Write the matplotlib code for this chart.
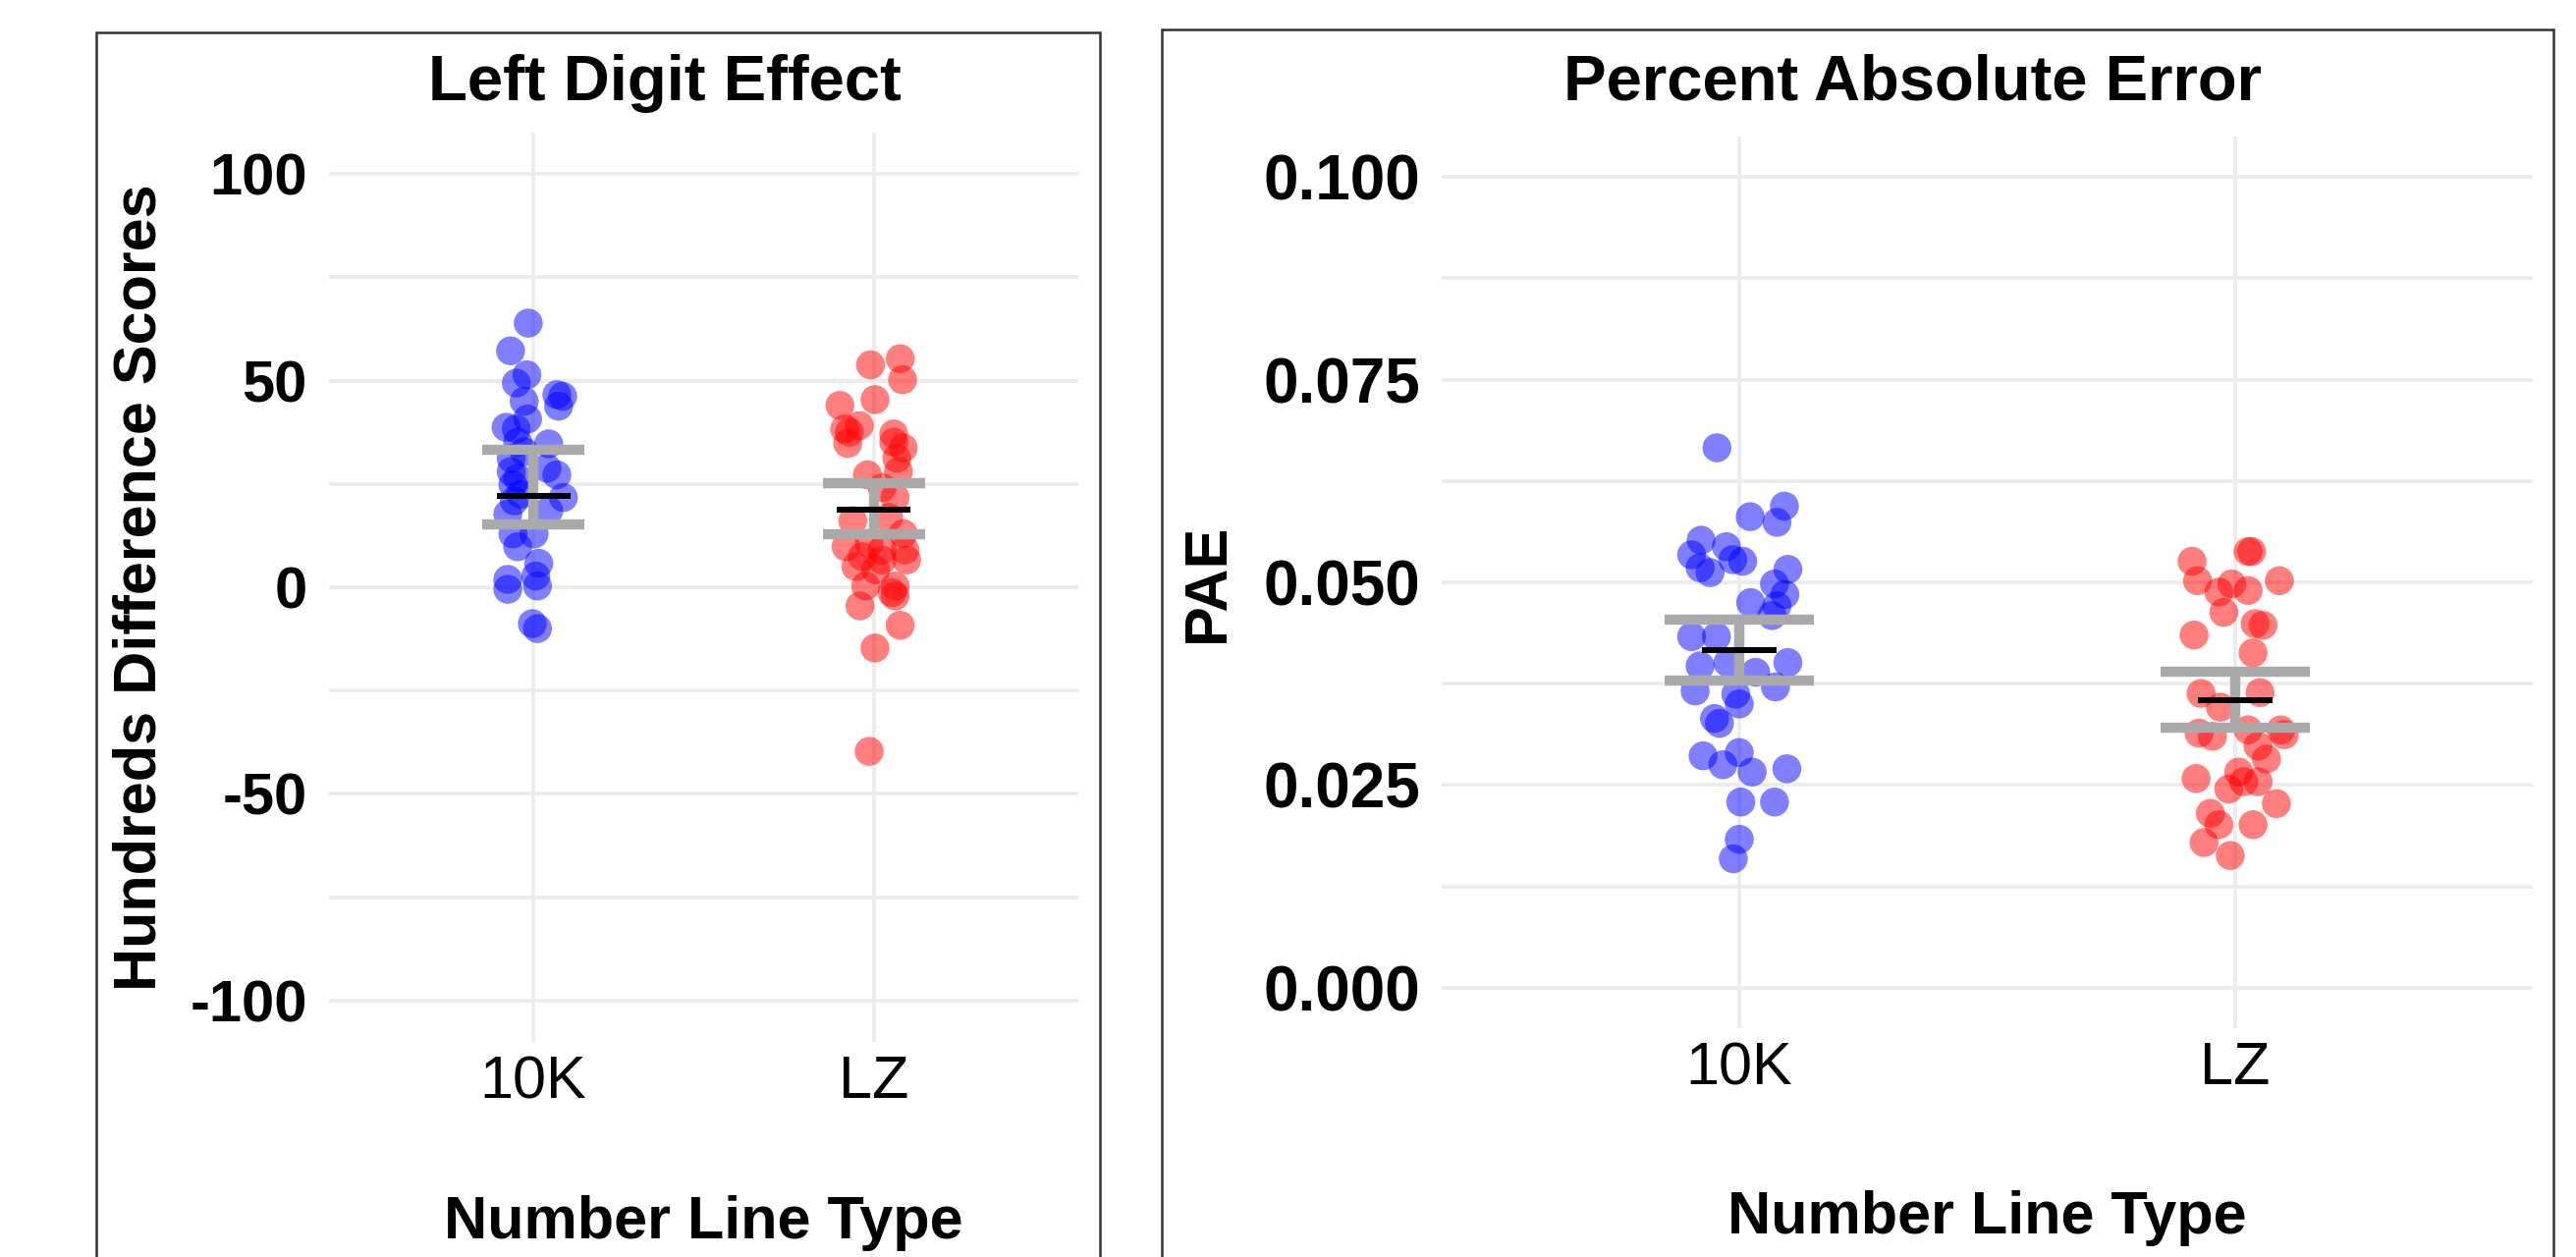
import matplotlib
matplotlib.use("Agg")
import matplotlib.pyplot as plt
import numpy as np
from matplotlib.patches import Rectangle

plt.rcParams['font.family'] = ['Liberation Sans', 'DejaVu Sans']
plt.rcParams['axes.unicode_minus'] = False

# DATA
groups = ["10K", "LZ"]

# Left Digit Effect: hundreds difference scores, with horizontal jitter
lde_10k = [63.9, 57.2, 51.4, 49.4, 46.6, 46.2, 43.8, 45.0, 38.7, 38.3,
           35.1, 34.7, 31.2, 28.0, 27.2, 24.8, 21.7, 20.9, 18.5, 17.7,
           12.9, 12.9, 9.8, 5.8, 1.9, -0.5, 2.7, 0.3, -8.8, -10.0,
           26.4, 22.5, 32.8, 40.7, 28.8]
lde_10k_jit = [-0.015, -0.067, -0.019, -0.05, 0.069, 0.086, 0.074, -0.027, -0.08, -0.05,
               -0.046, 0.045, -0.065, -0.065, 0.069, -0.06, 0.088, -0.056, 0.045, -0.075,
               -0.06, 0.002, -0.046, 0.016, -0.075, -0.075, 0.007, 0.012, -0.003, 0.012,
               -0.046, -0.037, -0.027, -0.017, 0.04]
lde_lz = [53.8, 55.3, 50.2, 45.4, 44.0, 39.1, 38.3, 34.8, 37.1, 35.1,
          33.7, 31.2, 27.2, 28.0, 21.7, 24.1, 16.1, 16.9, 13.0, 9.8,
          7.4, 9.0, 9.0, 6.6, 5.0, 4.2, 0.3, 0.3, -2.1, -4.5,
          -9.2, -14.7, -39.7, -1.3, 6.6, 10.6, 37.5]
lde_lz_jit = [-0.01, 0.077, 0.084, 0.003, -0.10, -0.043, -0.086, -0.077, 0.058, 0.058,
              0.086, 0.067, -0.019, 0.072, 0.062, 0.024, -0.062, 0.043, 0.086, -0.082,
              -0.034, 0.024, 0.091, 0.096, -0.053, 0.005, -0.024, 0.062, 0.062, -0.041,
              0.077, 0.003, -0.014, 0.053, 0.024, -0.014, -0.072]
lde_mean = [22.2, 18.8]
lde_lo = [15.3, 12.8]
lde_hi = [33.3, 25.1]

# Percent Absolute Error
pae_10k = [0.0666, 0.0581, 0.0594, 0.0574, 0.0552, 0.0534, 0.0544, 0.0526, 0.0518, 0.0512,
           0.0528, 0.0516, 0.0498, 0.0485, 0.0475, 0.0471, 0.0459, 0.0433, 0.0433, 0.0397,
           0.0401, 0.0401, 0.0389, 0.0366, 0.0371, 0.0350, 0.0332, 0.0326, 0.0286, 0.0290,
           0.0275, 0.0266, 0.0270, 0.0229, 0.0229, 0.0183, 0.0159, 0.0362]
pae_10k_jit = [-0.045, 0.022, 0.091, 0.076, -0.077, -0.096, -0.026, 0.007, -0.079, -0.059,
               -0.013, 0.098, 0.071, 0.092, 0.023, 0.076, 0.066, -0.096, -0.046, -0.079,
               -0.023, 0.098, 0.033, -0.089, 0.073, 0.0, -0.05, -0.04, -0.073, 0.0,
               -0.033, 0.026, 0.096, 0.003, 0.071, 0.0, -0.012, -0.007]
pae_lz = [0.0526, 0.0538, 0.0538, 0.0502, 0.0502, 0.0498, 0.0490, 0.0488, 0.0463, 0.0435,
          0.0449, 0.0447, 0.0413, 0.0363, 0.0364, 0.0346, 0.0314, 0.0310, 0.0318, 0.0318,
          0.0298, 0.0282, 0.0258, 0.0245, 0.0254, 0.0254, 0.0227, 0.0215, 0.0201, 0.0201,
          0.0179, 0.0163, 0.0266, 0.0312]
pae_lz_jit = [-0.087, 0.026, 0.033, 0.089, -0.076, -0.007, 0.026, -0.033, -0.023, -0.083,
              0.040, 0.056, 0.036, -0.069, 0.050, -0.030, -0.073, -0.046, 0.026, 0.092,
              0.046, 0.063, -0.079, -0.013, 0.017, 0.046, 0.083, -0.050, -0.033, 0.036,
              -0.063, -0.010, 0.007, 0.099]
pae_mean = [0.0416, 0.0355]
pae_lo = [0.0379, 0.0321]
pae_hi = [0.0454, 0.0390]

W, H = 2623, 1280
fig = plt.figure(figsize=(W / 100, H / 100), dpi=100)


def px_axes(x0, y0, x1, y1):
    return fig.add_axes([x0 / W, 1 - y1 / H, (x1 - x0) / W, (y1 - y0) / H])


def frame(x0, y0, x1):
    fig.add_artist(Rectangle((x0 / W, -0.1), (x1 - x0) / W, 1 - y0 / H + 0.1,
                             transform=fig.transFigure, fill=False,
                             edgecolor="#333333", lw=1.8, clip_on=False))


def panel(ax, values, jitters, means, lows, highs, mean_half, ysize):
    colors = ["#0000FF", "#FF0000"]
    for i, (vals, jit) in enumerate(zip(values, jitters)):
        ax.scatter(np.array(jit) + i, vals, s=450, color=colors[i], alpha=0.5,
                   edgecolors="none", zorder=2)
    xs = np.arange(len(groups))
    ax.vlines(xs, lows, highs, color="#A9A9A9", lw=7.5, zorder=3)
    ax.hlines(lows, xs - 0.15, xs + 0.15, color="#A9A9A9", lw=7.5, zorder=3)
    ax.hlines(highs, xs - 0.15, xs + 0.15, color="#A9A9A9", lw=7.5, zorder=3)
    ax.hlines(means, xs - mean_half, xs + mean_half, color="black", lw=4.3, zorder=4)
    ax.set_xlim(-0.6, 1.6)
    ax.set_xticks(xs)
    ax.set_xticklabels(groups, fontsize=44)
    for s in ax.spines.values():
        s.set_visible(False)
    ax.tick_params(axis="both", which="both", length=0)
    ax.tick_params(axis="x", pad=9.5)
    ax.tick_params(axis="y", pad=16, labelsize=ysize)
    for lab in ax.get_yticklabels():
        lab.set_fontweight("bold")
    ax.grid(True, which="both", color="#EBEBEB", lw=2.6)
    ax.set_axisbelow(True)


# left panel
frame(98, 33, 1120)
ax1 = px_axes(335, 135, 1098, 1061)
ax1.set_ylim(-110, 110)
ax1.set_yticks([-100, -50, 0, 50, 100])
ax1.set_yticks([-75, -25, 25, 75], minor=True)
panel(ax1, [lde_10k, lde_lz], [lde_10k_jit, lde_lz_jit], lde_mean, lde_lo, lde_hi, 0.108, 43)
ax1.set_title("Left Digit Effect", fontsize=47, fontweight="bold",
              x=0.448, y=1.036, va="baseline", pad=0)
ax1.set_xlabel("Number Line Type", fontsize=44, fontweight="bold", va="baseline")
ax1.xaxis.set_label_coords(0.5, -0.216)
ax1.set_ylabel("Hundreds Difference Scores", fontsize=44, fontweight="bold",
               va="center", ha="center")
ax1.yaxis.set_label_coords(-0.252, 0.5)

# right panel
frame(1183, 30, 2600)
ax2 = px_axes(1468, 139, 2579, 1047)
ax2.set_ylim(-0.005, 0.105)
ax2.set_yticks([0.0, 0.025, 0.05, 0.075, 0.1])
ax2.set_yticklabels(["0.000", "0.025", "0.050", "0.075", "0.100"])
ax2.set_yticks([0.0125, 0.0375, 0.0625, 0.0875], minor=True)
panel(ax2, [pae_10k, pae_lz], [pae_10k_jit, pae_lz_jit], pae_mean, pae_lo, pae_hi, 0.076, 46)
ax2.set_title("Percent Absolute Error", fontsize=47, fontweight="bold",
              x=0.432, y=1.041, va="baseline", pad=0)
ax2.set_xlabel("Number Line Type", fontsize=44, fontweight="bold", va="baseline")
ax2.xaxis.set_label_coords(0.5, -0.230)
ax2.set_ylabel("PAE", fontsize=44, fontweight="bold", va="center", ha="center")
ax2.yaxis.set_label_coords(-0.214, 0.5)

fig.savefig("out.png", dpi=100)
